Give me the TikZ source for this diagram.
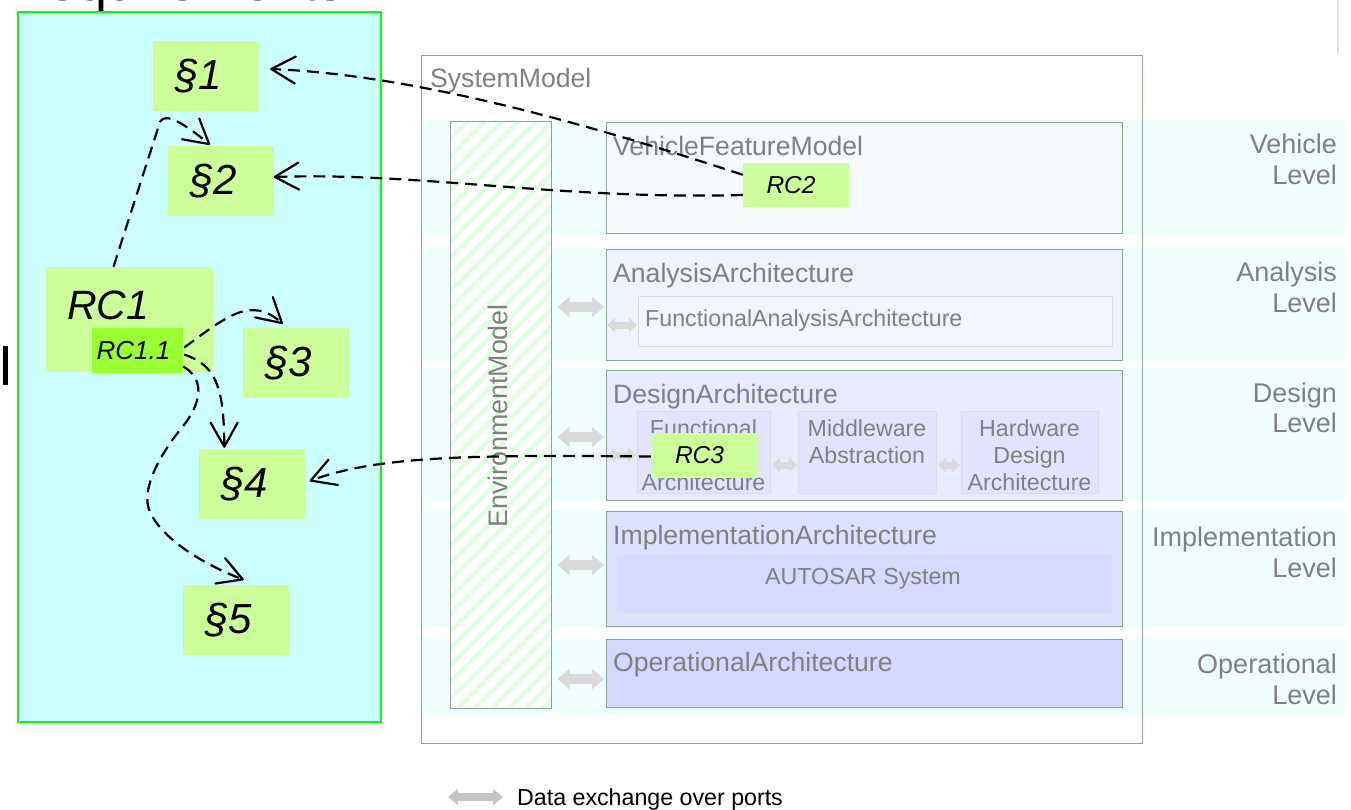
\documentclass[tikz,border=0pt]{standalone}
\usepackage{fontspec}
\setmainfont{Liberation Sans}
\usetikzlibrary{arrows.meta,calc,patterns.meta}

\definecolor{reqbg}{HTML}{CCFFFF}
\definecolor{reqframe}{HTML}{00FF00}
\definecolor{paragr}{HTML}{CCFF99}
\definecolor{rcsub}{HTML}{99FF33}
\definecolor{band}{HTML}{F0FEFF}
\definecolor{frame}{HTML}{8AA58A}
\definecolor{envframe}{HTML}{9A9A9A}
\definecolor{subframe}{HTML}{DCDCE4}
\definecolor{title}{HTML}{808080}
\definecolor{portgray}{HTML}{DADADA}
\definecolor{leggray}{HTML}{C4C4C4}
\definecolor{vfmfill}{HTML}{F6FAFF}
\definecolor{anafill}{HTML}{EFF2FF}
\definecolor{faafill}{HTML}{F2F4FF}
\definecolor{desfill}{HTML}{E8EAFF}
\definecolor{dsubfill}{HTML}{E2E4FF}
\definecolor{impfill}{HTML}{DEE0FF}
\definecolor{autfill}{HTML}{D7D9FF}
\definecolor{opfill}{HTML}{D5D7FF}
\definecolor{stripe}{HTML}{E4FCE4}

\newcommand\pxfont[1]{\fontsize{#1}{#1}\selectfont}

\tikzset{
  para/.style={fill=paragr, inner sep=0pt, minimum width=106pt, minimum height=70pt,
    font=\itshape\pxfont{42}},
  rcbox/.style={fill=paragr, inner sep=0pt, minimum width=106pt, minimum height=44pt,
    font=\itshape\pxfont{24.5}},
  levelbox/.style={draw=frame, line width=1.2pt, inner sep=0pt, anchor=north west,
    minimum width=516pt},
  subbox/.style={draw=subframe, line width=1pt, inner sep=0pt, anchor=north west},
  ttl/.style={text=title, font=\pxfont{26.6}, inner sep=0pt, anchor=base west},
  subttl/.style={text=title, font=\pxfont{23.2}, inner sep=0pt, anchor=base},
  lvl/.style={text=title, font=\pxfont{27}, inner sep=0pt, anchor=base east},
  trace/.style={draw=black, line width=2.2pt, dash pattern=on 12pt off 7pt,
    -{Straight Barb[length=24pt,width=27pt,round]}},
  port/.style={draw=portgray, line width=10pt, shorten <=4pt, shorten >=2pt,
    {Triangle[length=12pt,width=20pt]}-{Triangle[length=12pt,width=20pt]}},
  smallport/.style={draw=portgray, line width=7pt, shorten <=1pt, shorten >=1pt,
    {Triangle[length=8pt,width=14pt]}-{Triangle[length=8pt,width=14pt]}},
  legport/.style={draw=leggray, line width=8pt, shorten >=14pt,
    {Triangle[length=10pt,width=16pt]}-{Triangle[length=10pt,width=16pt]}},
}

\begin{document}
\begin{tikzpicture}[x=1pt,y=-1pt]
\useasboundingbox (0,0) rectangle (1351,810);

% heading above the requirements area (runs off the top edge)
\node[font=\pxfont{54}, anchor=base west, inner sep=0pt] (heading) at (8,1) {Requirements};
\fill[black] (3,346) rectangle (8,385);
\draw[black!12, line width=1.5pt] (1338,0) -- (1338,53);

% requirements area
\node[draw=reqframe, line width=2pt, fill=reqbg, anchor=north west, inner sep=0pt,
  minimum width=363pt, minimum height=710pt] (reqarea) at (17,11) {};

% level bands
\fill[band] (422,120) rectangle (1345,235);
\fill[band] (422,247) rectangle (1345,361);
\fill[band] (422,368) rectangle (1345,501);
\fill[band] (422,510) rectangle (1345,628);
\fill[band] (422,637) rectangle (1345,715);

% system model frame
\node[draw=frame, line width=1.2pt, anchor=north west, inner sep=0pt,
  minimum width=721pt, minimum height=688pt] (sys) at (421,55) {};
\node[ttl] (syst) at (430,88) {SystemModel};

% environment model
\node[draw=envframe, line width=1pt, preaction={fill=white},
  pattern={Lines[angle=45,distance=12pt,line width=4.5pt]}, pattern color=stripe,
  anchor=north west, inner sep=0pt, minimum width=101pt, minimum height=587pt] (env) at (448,119) {};
\node[text=title, font=\pxfont{26.8}, inner sep=0pt, rotate=90, anchor=base] (envt) at (507,416) {EnvironmentModel};

% architecture levels
\node[levelbox, fill=vfmfill, minimum height=111pt] (vfm) at (606,122) {};
\node[ttl] (vfmt) at (613,156) {VehicleFeatureModel};

\node[levelbox, fill=anafill, minimum height=111pt] (ana) at (606,249) {};
\node[ttl] (anat) at (613,282) {AnalysisArchitecture};
\node[subbox, fill=faafill, minimum width=474pt, minimum height=50pt] (faa) at (638,296) {};
\node[subttl, anchor=base west] (faat) at (645,326) {FunctionalAnalysisArchitecture};

\node[levelbox, fill=desfill, minimum height=130pt] (des) at (606,370) {};
\node[ttl] (dest) at (613,403) {DesignArchitecture};
\node[subbox, fill=dsubfill, minimum width=133pt, minimum height=82pt] (fda) at (637,411) {};
\node[subbox, fill=dsubfill, minimum width=138pt, minimum height=82pt] (mwa) at (798,411) {};
\node[subbox, fill=dsubfill, minimum width=137pt, minimum height=82pt] (hwa) at (961,411) {};
\node[subttl] (fdaa) at (703.5,436) {Functional};
\node[subttl] (fdab) at (703.5,490) {Architecture};
\node[subttl] (mwaa) at (867,436) {Middleware};
\node[subttl] (mwab) at (867,463) {Abstraction};
\node[subttl] (hwaa) at (1029.5,436) {Hardware};
\node[subttl] (hwab) at (1029.5,463) {Design};
\node[subttl] (hwac) at (1029.5,490) {Architecture};

\node[levelbox, fill=impfill, minimum height=115pt] (imp) at (606,511) {};
\node[ttl] (impt) at (613,544) {ImplementationArchitecture};
\node[subbox, fill=autfill, minimum width=494pt, minimum height=57pt] (aut) at (617,555) {};
\node[subttl] (autt) at (863,584) {AUTOSAR System};

\node[levelbox, fill=opfill, minimum height=68pt] (opr) at (606,639) {};
\node[ttl] (oprt) at (613,671) {OperationalArchitecture};

% level names
\node[lvl] (vla) at (1337,154) {Vehicle};
\node[lvl] (vlb) at (1337,185) {Level};
\node[lvl] (ala) at (1337,281) {Analysis};
\node[lvl] (alb) at (1337,312) {Level};
\node[lvl] (dla) at (1337,402) {Design};
\node[lvl] (dlb) at (1337,432) {Level};
\node[lvl] (ila) at (1337,546) {Implementation};
\node[lvl] (ilb) at (1337,577) {Level};
\node[lvl] (ola) at (1337,673) {Operational};
\node[lvl] (olb) at (1337,704) {Level};

% data exchange over ports
\draw[port] (env.east |- 0,307) -- (ana.west |- 0,307);
\draw[port] (env.east |- 0,437) -- (des.west |- 0,437);
\draw[port] (env.east |- 0,565) -- (imp.west |- 0,565);
\draw[port] (env.east |- 0,679) -- (opr.west |- 0,679);
\draw[smallport] (ana.west |- 0,325) -- (faa.west |- 0,325);
\draw[smallport] (des.west |- 0,455) -- (fda.west |- 0,455);
\draw[smallport] (fda.east |- 0,465) -- (mwa.west |- 0,465);
\draw[smallport] (mwa.east |- 0,465) -- (hwa.west |- 0,465);

% requirement paragraphs and requirement clusters
\node[para] (p1) at (206,76) {§1\hspace*{14pt}};
\node[para] (p2) at (220.5,181) {§2\hspace*{14pt}};
\node[para] (p3) at (296,363) {§3\hspace*{14pt}};
\node[para] (p4) at (251.5,484) {§4\hspace*{14pt}};
\node[para] (p5) at (236,620) {§5\hspace*{14pt}};

\node[fill=paragr, inner sep=0pt, minimum width=167pt, minimum height=105pt] (rc1) at (129.5,319.5) {};
\node[font=\itshape\pxfont{41}, anchor=base west, inner sep=0pt] (rc1t) at (67,319) {RC1};
\node[fill=rcsub, inner sep=0pt, minimum width=91pt, minimum height=45pt,
  font=\itshape\pxfont{26}] (rc11) at (137.5,350.5) {RC1.1\hspace*{8pt}};

\node[rcbox] (rc2) at (796,185) {RC2\hspace*{10pt}};
\node[rcbox, minimum width=107pt, minimum height=45pt] (rc3) at (704.5,455.5) {RC3\hspace*{10pt}};

% traces
\draw[trace] ($(rc1.north)+(-16,0)$) -- (160,122)
  .. controls (165,111) and (186,125) .. ($(p2.north)+(-10.5,-1)$);
\draw[trace] ($(rc11.east)+(1,-3)$) .. controls (225,318) and (250,295) .. ($(p3.north west)+(40,-4)$);
\draw[trace] ($(rc11.east)+(1,4)$) .. controls (215,365) and (224,385) .. ($(p4.north west)+(26,-1)$);
\draw[trace] ($(rc11.east)+(0,16)$) .. controls (203,378) and (205,400) .. (180,430)
  .. controls (160,455) and (140,490) .. (150,512)
  .. controls (163,540) and (205,565) .. ($(p5.north west)+(61,-5)$);
\draw[trace] ($(rc2.north west)+(0,12)$) .. controls (600,128) and (420,75) .. ($(p1.east)+(11,-7)$);
\draw[trace] ($(rc2.west)+(0,10)$) .. controls (560,200) and (420,172) .. ($(p2.east)+(0,-4)$);
\draw[trace] ($(rc3.west)+(0,1)$) .. controls (480,455) and (380,455) .. ($(p4.east)+(5,-3)$);

% legend
\node[font=\pxfont{23.2}, anchor=base west, inner sep=0pt] (leg) at (517,805) {Data exchange over ports};
\coordinate (legL) at (448,797);
\draw[legport] (legL) -- (leg.west |- legL);
\end{tikzpicture}
\end{document}
